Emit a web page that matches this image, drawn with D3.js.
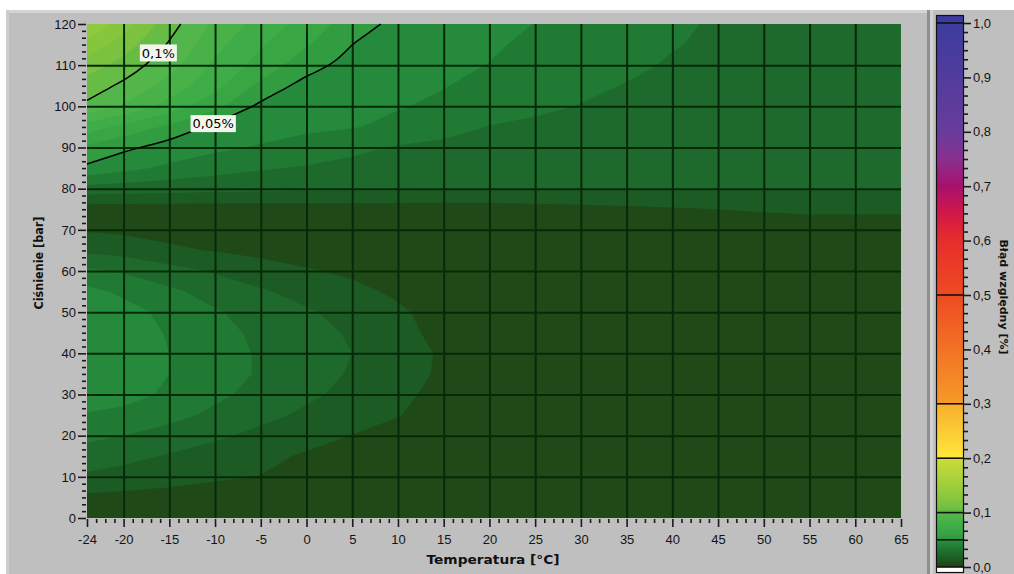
<!DOCTYPE html>
<html>
<head>
<meta charset="utf-8">
<script src="https://cdn.jsdelivr.net/npm/d3@7"></script>
<style>
  body { margin: 0; background: #fff; }
  svg { display: block; font-family: "DejaVu Sans", sans-serif; }
</style>
</head>
<body>
<div id="chart"></div>
<script>
// grid columns (temperature, °C) and rows (pressure, bar)
const temps = [-24, -20, -15, -10, -5, 0, 5, 10, 15, 20, 25, 30, 35, 40, 45, 50, 55, 60, 65];
const pressures = [0, 5, 10, 15, 20, 25, 30, 35, 40, 45, 50, 55, 60, 65, 70, 75, 80, 85, 90, 95, 100, 105, 110, 115, 120];

// error [%], one row per pressure, bottom to top
const errorGrid = [
  [0.005, 0.0045, 0.004, 0.004, 0.004, 0.004, 0.004, 0.004, 0.004, 0.004, 0.004, 0.004, 0.004, 0.004, 0.004, 0.004, 0.004, 0.004, 0.004], // 0
  [0.008, 0.0075, 0.007, 0.0065, 0.006, 0.005, 0.004, 0.004, 0.004, 0.004, 0.004, 0.004, 0.004, 0.004, 0.004, 0.004, 0.004, 0.004, 0.004], // 5
  [0.018, 0.016, 0.013, 0.011, 0.0098, 0.006, 0.004, 0.004, 0.004, 0.004, 0.004, 0.004, 0.004, 0.004, 0.004, 0.004, 0.004, 0.004, 0.004], // 10
  [0.026, 0.023, 0.019, 0.015, 0.012, 0.009, 0.006, 0.004, 0.004, 0.004, 0.004, 0.004, 0.004, 0.004, 0.004, 0.004, 0.004, 0.004, 0.004], // 15
  [0.032, 0.030, 0.026, 0.022, 0.017, 0.013, 0.0098, 0.006, 0.004, 0.004, 0.004, 0.004, 0.004, 0.004, 0.004, 0.004, 0.004, 0.004, 0.004], // 20
  [0.039, 0.037, 0.033, 0.028, 0.023, 0.018, 0.014, 0.0105, 0.005, 0.004, 0.004, 0.004, 0.004, 0.004, 0.004, 0.004, 0.004, 0.004, 0.004], // 25
  [0.047, 0.044, 0.038, 0.032, 0.027, 0.022, 0.017, 0.013, 0.006, 0.004, 0.004, 0.004, 0.004, 0.004, 0.004, 0.004, 0.004, 0.004, 0.004], // 30
  [0.049, 0.046, 0.040, 0.034, 0.029, 0.024, 0.019, 0.015, 0.008, 0.004, 0.004, 0.004, 0.004, 0.004, 0.004, 0.004, 0.004, 0.004, 0.004], // 35
  [0.049, 0.047, 0.040, 0.034, 0.029, 0.024, 0.020, 0.015, 0.0085, 0.004, 0.004, 0.004, 0.004, 0.004, 0.004, 0.004, 0.004, 0.004, 0.004], // 40
  [0.048, 0.046, 0.039, 0.033, 0.028, 0.023, 0.019, 0.014, 0.006, 0.004, 0.004, 0.004, 0.004, 0.004, 0.004, 0.004, 0.004, 0.004, 0.004], // 45
  [0.047, 0.044, 0.037, 0.031, 0.026, 0.021, 0.017, 0.012, 0.005, 0.004, 0.004, 0.004, 0.004, 0.004, 0.004, 0.004, 0.004, 0.004, 0.004], // 50
  [0.043, 0.038, 0.032, 0.026, 0.021, 0.017, 0.013, 0.008, 0.004, 0.004, 0.004, 0.004, 0.004, 0.004, 0.004, 0.004, 0.004, 0.004, 0.004], // 55
  [0.032, 0.029, 0.024, 0.019, 0.015, 0.011, 0.008, 0.005, 0.004, 0.004, 0.004, 0.004, 0.004, 0.004, 0.004, 0.004, 0.004, 0.004, 0.004], // 60
  [0.018, 0.016, 0.0115, 0.0095, 0.007, 0.005, 0.004, 0.004, 0.004, 0.004, 0.004, 0.004, 0.004, 0.004, 0.004, 0.004, 0.004, 0.004, 0.004], // 65
  [0.009, 0.008, 0.007, 0.006, 0.005, 0.004, 0.004, 0.004, 0.004, 0.004, 0.004, 0.004, 0.004, 0.004, 0.004, 0.004, 0.004, 0.004, 0.004], // 70
  [0.005, 0.005, 0.005, 0.005, 0.005, 0.005, 0.005, 0.005, 0.005, 0.005, 0.006, 0.007, 0.008, 0.009, 0.010, 0.011, 0.012, 0.012, 0.012], // 75
  [0.026, 0.025, 0.024, 0.023, 0.0225, 0.022, 0.0218, 0.0215, 0.021, 0.021, 0.0208, 0.0205, 0.0205, 0.0205, 0.0205, 0.0205, 0.0205, 0.0205, 0.0205], // 80
  [0.048, 0.043, 0.038, 0.034, 0.031, 0.029, 0.027, 0.0255, 0.0245, 0.024, 0.0235, 0.023, 0.0225, 0.022, 0.0218, 0.0215, 0.021, 0.021, 0.0205], // 85
  [0.058, 0.052, 0.046, 0.042, 0.039, 0.036, 0.0325, 0.029, 0.027, 0.0255, 0.0245, 0.0235, 0.023, 0.0225, 0.022, 0.0215, 0.021, 0.021, 0.0205], // 90
  [0.075, 0.067, 0.058, 0.047, 0.0445, 0.042, 0.0405, 0.038, 0.0345, 0.0295, 0.027, 0.025, 0.024, 0.023, 0.0225, 0.022, 0.0215, 0.021, 0.0205], // 95
  [0.098, 0.089, 0.076, 0.063, 0.0475, 0.0455, 0.043, 0.0405, 0.0385, 0.036, 0.033, 0.0295, 0.027, 0.0255, 0.0245, 0.023, 0.022, 0.0215, 0.021], // 100
  [0.105, 0.098, 0.086, 0.073, 0.0575, 0.0461, 0.0445, 0.042, 0.0403, 0.038, 0.0355, 0.0325, 0.0295, 0.027, 0.0255, 0.024, 0.023, 0.022, 0.0213], // 105
  [0.115, 0.106, 0.094, 0.078, 0.066, 0.054, 0.047, 0.0435, 0.0415, 0.0398, 0.037, 0.0345, 0.032, 0.029, 0.027, 0.0255, 0.024, 0.0225, 0.0215], // 110
  [0.127, 0.115, 0.099, 0.083, 0.071, 0.061, 0.050, 0.0445, 0.0425, 0.041, 0.0385, 0.036, 0.033, 0.0305, 0.0285, 0.0265, 0.025, 0.023, 0.022], // 115
  [0.140, 0.125, 0.104, 0.088, 0.076, 0.066, 0.055, 0.047, 0.0455, 0.043, 0.0398, 0.037, 0.034, 0.0315, 0.029, 0.027, 0.025, 0.0235, 0.022]  // 120
];

const contourLevels = [0.05, 0.1, 0.2, 0.3, 0.5, 1.0];
const labelLevels = [0.1, 0.05];
const labelTexts = ['0,1%', '0,05%'];
const labelTemps = [-16.2, -10.2];

const xTicks = [-24, -20, -15, -10, -5, 0, 5, 10, 15, 20, 25, 30, 35, 40, 45, 50, 55, 60, 65];
const yTicks = [0, 10, 20, 30, 40, 50, 60, 70, 80, 90, 100, 110, 120];
const colorTicks = [0, 0.1, 0.2, 0.3, 0.4, 0.5, 0.6, 0.7, 0.8, 0.9, 1.0];

const width = 1014;
const height = 574;
const plot = { left: 87, right: 901, top: 24, bottom: 518 };

const colorScale = d3.scaleLinear()
  .domain([0, 0.005, 0.015, 0.025, 0.035, 0.045, 0.05, 0.06, 0.08, 0.1, 0.11, 0.13, 0.1999, 0.2, 0.2999, 0.3, 0.5, 0.6, 0.65, 0.7, 0.75, 0.8, 1])
  .range(['#1c4418', '#1f4a17', '#1d5b24', '#1e6a2c', '#207a33', '#258a3b', '#2c963e', '#36a242', '#42b048', '#58b84a', '#74c040', '#8cc83c',
          '#cddc38', '#fde83a', '#f9ae2e', '#f69a28', '#ef4a22', '#e62e2c', '#d01848', '#a8106c', '#8a3090', '#683c9c', '#3c3c9e'])
  .clamp(true);

const svg = d3.select('#chart')
  .append('svg')
  .attr('width', width)
  .attr('height', height);

// panel
svg.append('rect').attr('width', width).attr('height', height).attr('fill', '#fff');
svg.append('rect').attr('x', 6).attr('y', 10).attr('width', width - 6).attr('height', height - 10).attr('fill', '#bfbfbf');
svg.append('rect').attr('x', 6).attr('y', 10).attr('width', 924).attr('height', 3).attr('fill', '#d4d4d4');
svg.append('rect').attr('x', 6).attr('y', 10).attr('width', 3).attr('height', height - 10).attr('fill', '#cdcdcd');
svg.append('rect').attr('x', 927).attr('y', 10).attr('width', 3).attr('height', height - 10).attr('fill', '#8f8f8f');
svg.append('rect').attr('x', 930).attr('y', 10).attr('width', 3).attr('height', height - 10).attr('fill', '#d2d2d2');

const x = d3.scaleLinear().domain(d3.extent(temps)).range([plot.left, plot.right]);
const y = d3.scaleLinear().domain(d3.extent(pressures)).range([plot.bottom, plot.top]);

// contour bands from the grid
const nx = temps.length, ny = pressures.length;
const values = errorGrid.flat();
const colT = d3.scaleLinear().domain(d3.range(nx)).range(temps);
const rowP = d3.scaleLinear().domain(d3.range(ny)).range(pressures);
const clampIdx = (v, n) => Math.max(0, Math.min(n - 1, v - 0.5));
const gridToPx = (cx, cy) => [x(colT(clampIdx(cx, nx))), y(rowP(clampIdx(cy, ny)))];

const path = d3.geoPath(d3.geoTransform({
  point(cx, cy) { const p = gridToPx(cx, cy); this.stream.point(p[0], p[1]); }
}));

const bands = d3.contours().size([nx, ny]).thresholds(d3.range(0, 0.15, 0.01))(values);

const plotG = svg.append('g');
plotG.selectAll('path')
  .data(bands)
  .join('path')
    .attr('d', path)
    .attr('fill', d => colorScale(d.value + 0.005))
    .attr('fill-rule', 'evenodd');

// grid
svg.append('g')
  .attr('transform', `translate(0,${plot.bottom})`)
  .call(d3.axisBottom(x).tickValues(xTicks.slice(1, -1)).tickSize(-(plot.bottom - plot.top)).tickFormat(''))
  .call(g => g.select('.domain').remove())
  .call(g => g.selectAll('line').attr('stroke', '#062a08').attr('stroke-width', 2));
svg.append('g')
  .attr('transform', `translate(${plot.left},0)`)
  .call(d3.axisLeft(y).tickValues(yTicks.slice(1, -1)).tickSize(-(plot.right - plot.left)).tickFormat(''))
  .call(g => g.select('.domain').remove())
  .call(g => g.selectAll('line').attr('stroke', '#062a08').attr('stroke-width', 2));

// iso lines (interior part of each contour ring)
function isoLines(level) {
  const c = d3.contours().size([nx, ny]).contour(values, level);
  const lines = [];
  c.coordinates.forEach(poly => poly.forEach(ring => {
    let cur = [];
    ring.forEach(([cx, cy]) => {
      if (cx <= 0 || cx >= nx || cy <= 0 || cy >= ny) {
        if (cur.length > 1) lines.push(cur);
        cur = [];
      } else cur.push(gridToPx(cx, cy));
    });
    if (cur.length > 1) lines.push(cur);
  }));
  return lines;
}

const line = d3.line().curve(d3.curveBasis);
labelLevels.forEach((level, i) => {
  const lines = isoLines(level);
  svg.append('g').selectAll('path')
    .data(lines)
    .join('path')
      .attr('d', line)
      .attr('fill', 'none')
      .attr('stroke', '#000')
      .attr('stroke-width', 1.5);

  // label sits on the line at the given temperature
  const lx = x(labelTemps[i]);
  let ly = null;
  lines.forEach(pts => {
    for (let k = 1; k < pts.length; k++) {
      const [a, b] = [pts[k - 1], pts[k]];
      if ((a[0] - lx) * (b[0] - lx) <= 0 && a[0] !== b[0] && ly === null) {
        ly = a[1] + (b[1] - a[1]) * (lx - a[0]) / (b[0] - a[0]);
      }
    }
  });
  const t = svg.append('text')
    .attr('x', lx).attr('y', ly).attr('dy', '0.36em')
    .attr('text-anchor', 'middle')
    .attr('font-size', 13)
    .attr('fill', '#000')
    .text(labelTexts[i]);
  const bb = t.node().getBBox();
  svg.insert('rect', () => t.node())
    .attr('x', bb.x - 2).attr('y', ly - 8.5)
    .attr('width', bb.width + 4).attr('height', 17)
    .attr('fill', '#f5f5ef');
});

// axes
const tickStyle = g => {
  g.select('.domain').remove();
  g.selectAll('line').attr('stroke', '#1a1a1a').attr('stroke-width', 1.6);
  g.selectAll('text').attr('font-size', 13).attr('fill', '#141414');
};

function xAxis(g) {
  g.attr('transform', `translate(0,${plot.bottom + 1})`)
    .call(d3.axisBottom(x).tickValues(xTicks).tickSize(8).tickPadding(8).tickFormat(d => String(d)))
    .call(tickStyle);
  g.append('g')
    .call(d3.axisBottom(x).tickValues(d3.range(-24, 65, 1).filter(v => !xTicks.includes(v))).tickSize(4).tickFormat(''))
    .call(tickStyle);
}

function yAxis(g) {
  g.attr('transform', `translate(${plot.left - 1},0)`)
    .call(d3.axisLeft(y).tickValues(yTicks).tickSize(8).tickPadding(2).tickFormat(d => String(d)))
    .call(tickStyle);
  g.append('g')
    .call(d3.axisLeft(y).tickValues(d3.range(0, 120, 10 / 6).filter((v, i) => i % 6 !== 0)).tickSize(4).tickFormat(''))
    .call(tickStyle);
}

svg.append('g').call(xAxis);
svg.append('g').call(yAxis);

svg.append('text')
  .attr('x', 493).attr('y', 564)
  .attr('text-anchor', 'middle')
  .attr('font-size', 13).attr('font-weight', 'bold').attr('fill', '#111')
  .attr('textLength', 133).attr('lengthAdjust', 'spacingAndGlyphs')
  .text('Temperatura [°C]');

svg.append('text')
  .attr('transform', 'translate(43,263) rotate(-90)')
  .attr('text-anchor', 'middle')
  .attr('font-size', 13).attr('font-weight', 'bold').attr('fill', '#111')
  .attr('textLength', 93).attr('lengthAdjust', 'spacingAndGlyphs')
  .text('Ciśnienie [bar]');

// colour ramp
const cbX = 937, cbW = 26;
const cbY = d3.scaleLinear().domain([0, 1]).range([567, 23]);

svg.append('rect').attr('x', cbX).attr('y', 16).attr('width', cbW).attr('height', cbY(1) - 16).attr('fill', '#3b3ba0');
svg.append('g').selectAll('rect')
  .data(d3.range(Math.round(cbY(1)), Math.round(cbY(0))))
  .join('rect')
    .attr('x', cbX).attr('y', d => d)
    .attr('width', cbW).attr('height', 1)
    .attr('fill', d => colorScale(cbY.invert(d + 0.5)));
svg.append('rect').attr('x', cbX).attr('y', cbY(0)).attr('width', cbW).attr('height', 5).attr('fill', '#fff');
svg.append('rect')
  .attr('x', cbX - 0.5).attr('y', 15.5).attr('width', cbW + 1).attr('height', 557)
  .attr('fill', 'none').attr('stroke', '#111').attr('stroke-width', 1.2);
svg.append('g').selectAll('line')
  .data(contourLevels.concat([0]))
  .join('line')
    .attr('x1', cbX).attr('x2', cbX + cbW)
    .attr('y1', d => cbY(d)).attr('y2', d => cbY(d))
    .attr('stroke', '#111').attr('stroke-width', 1.6);

svg.append('g')
  .attr('transform', `translate(${cbX + cbW + 1},0)`)
  .call(d3.axisRight(cbY).tickValues(colorTicks).tickSize(7).tickPadding(2)
    .tickFormat(d => d3.format('.1f')(d).replace('.', ',')))
  .call(tickStyle)
  .call(g => g.append('g')
    .call(d3.axisRight(cbY).tickValues(d3.range(0, 1, 1 / 60).filter((v, i) => i % 6 !== 0)).tickSize(4).tickFormat(''))
    .call(tickStyle));

svg.append('text')
  .attr('transform', 'translate(1000,297) rotate(90)')
  .attr('text-anchor', 'middle')
  .attr('font-size', 11).attr('font-weight', 'bold').attr('fill', '#111')
  .text('Błąd względny [%]');
</script>
</body>
</html>
